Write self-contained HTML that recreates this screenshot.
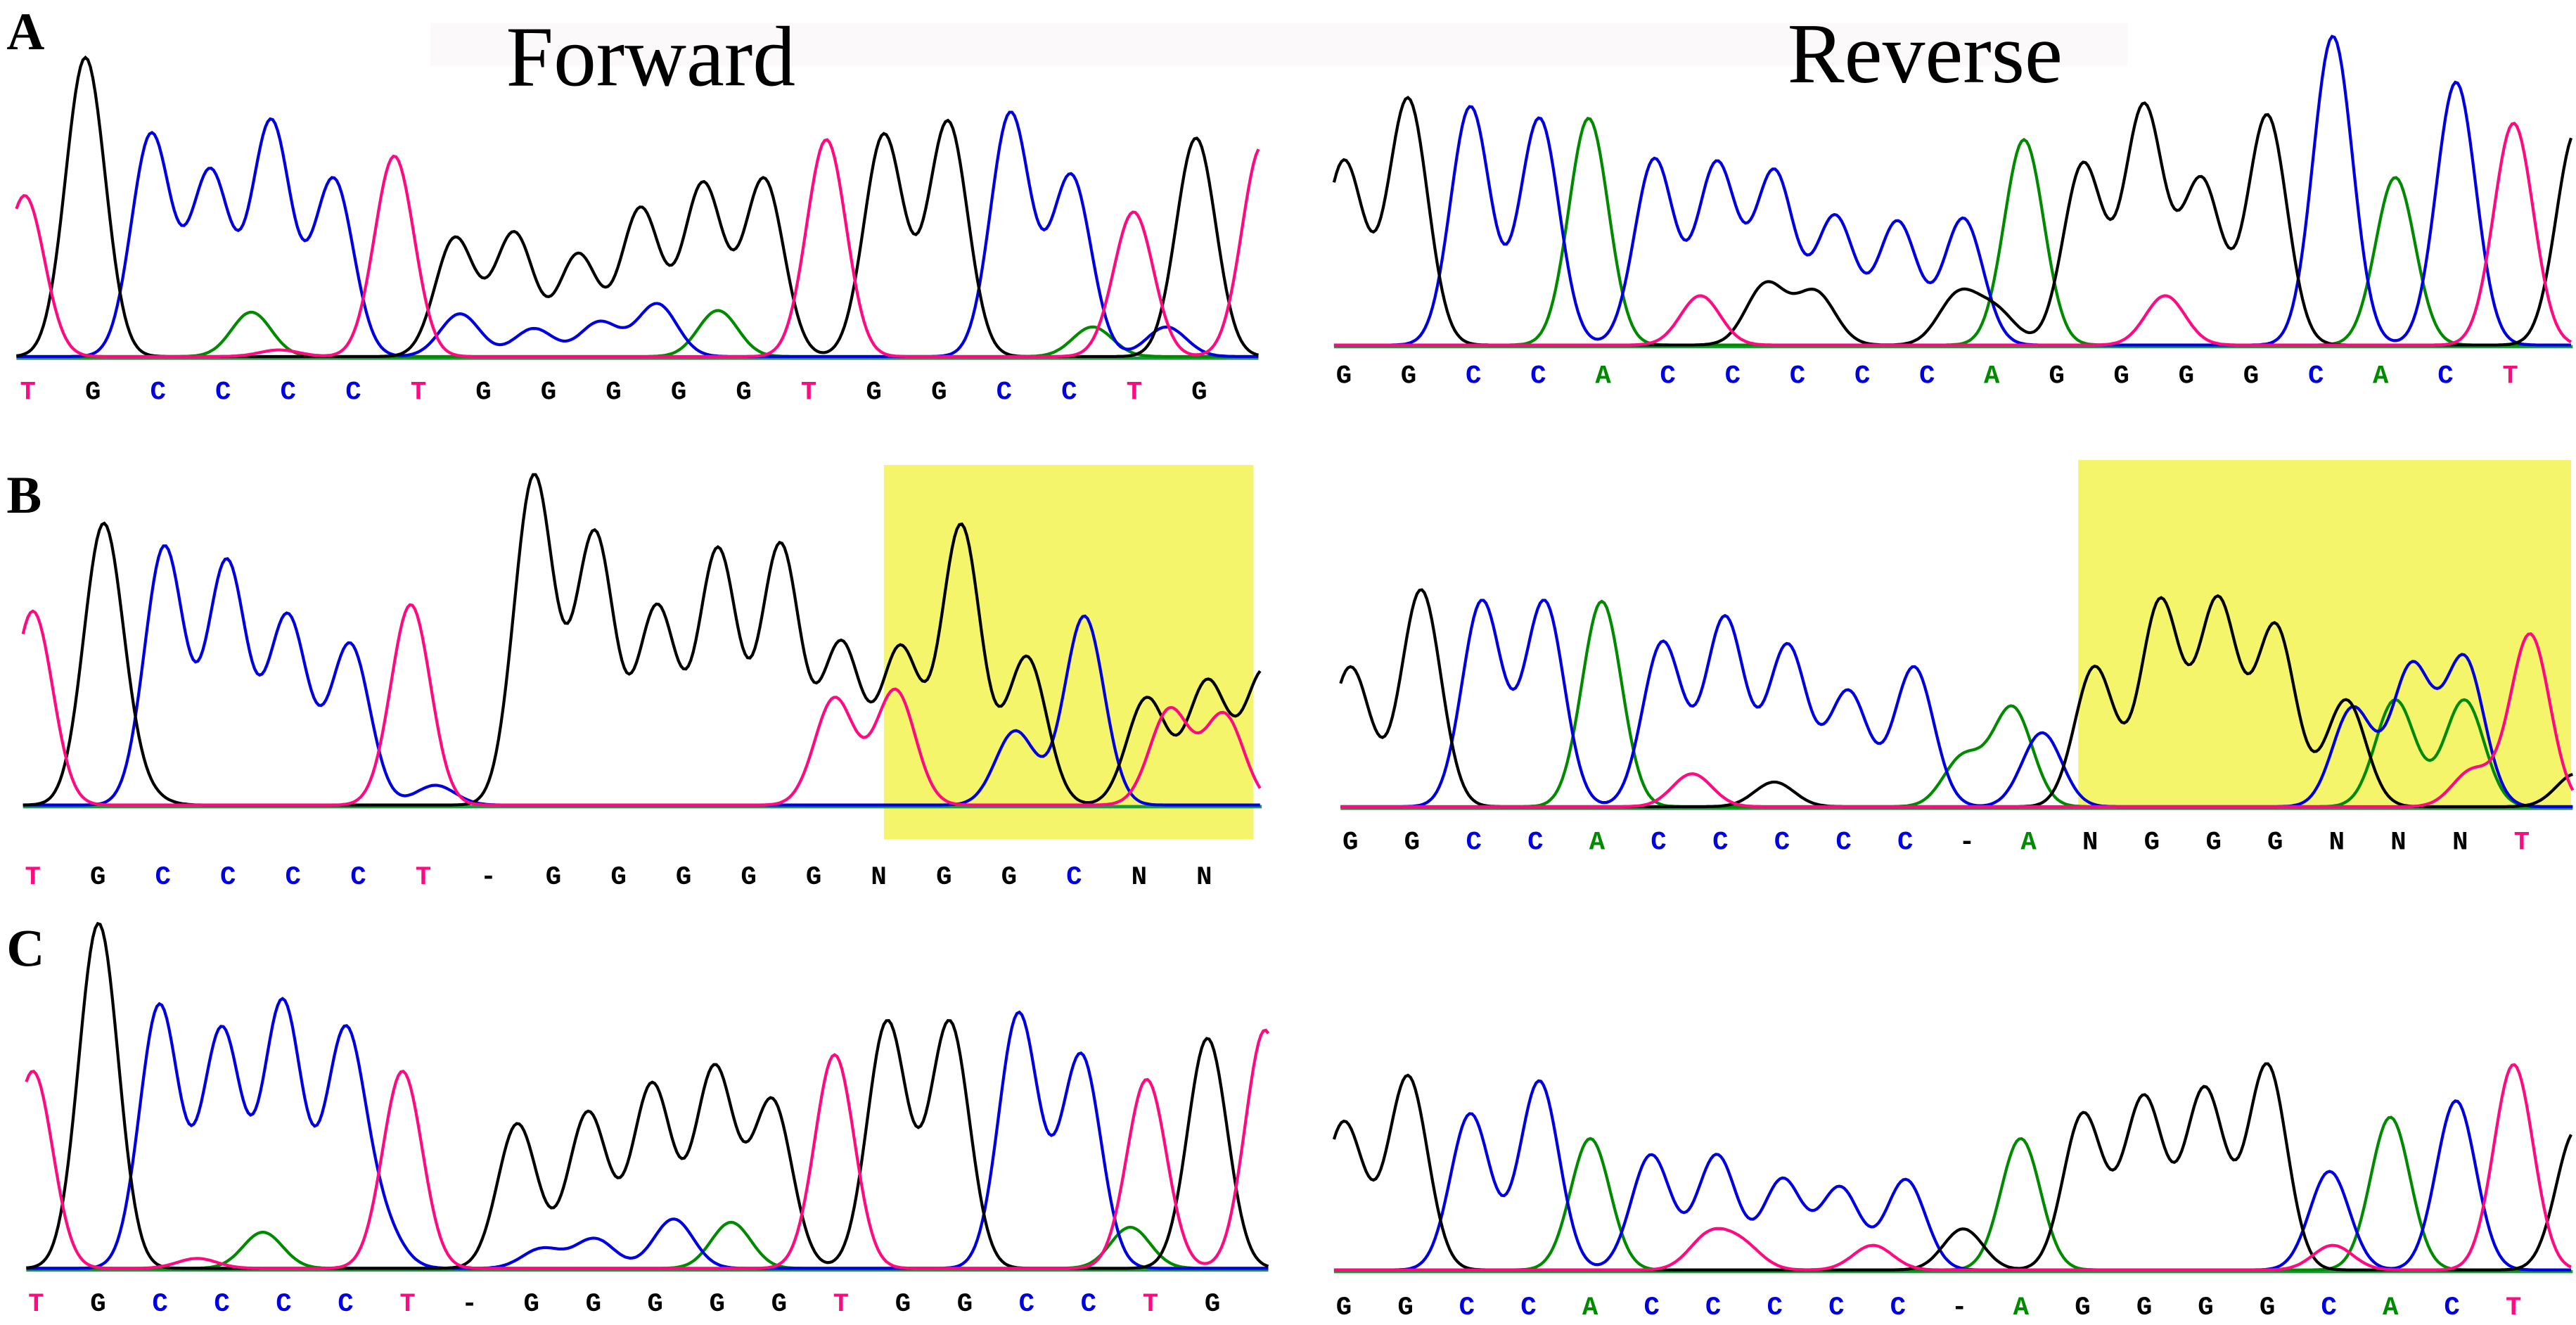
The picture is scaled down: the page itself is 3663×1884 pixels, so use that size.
<!DOCTYPE html>
<html><head><meta charset="utf-8">
<style>
html,body{margin:0;padding:0;background:#fff;}
svg{display:block;}
.lbl{font-family:"Liberation Serif",serif;font-weight:bold;font-size:32px;}
.ttl{font-family:"Liberation Serif",serif;font-size:52px;}
.base{font-family:"Liberation Mono",monospace;font-weight:bold;font-size:16px;text-anchor:middle;}
</style></head>
<body>
<svg id="fig" width="3663" height="1884" viewBox="0 0 1568 806.5" preserveAspectRatio="none" xmlns="http://www.w3.org/2000/svg">
<rect x="262" y="14" width="1033" height="26" fill="#fcf9fa"/>
<text class="ttl" x="308" y="52">Forward</text>
<text class="ttl" x="1088" y="50">Reverse</text>
<text class="lbl" x="4" y="30">A</text>
<text class="lbl" x="4" y="312">B</text>
<text class="lbl" x="4" y="588">C</text>
<rect x="538" y="283" width="225" height="228" fill="#f5f56c"/>
<rect x="1265" y="280" width="300" height="212" fill="#f5f56c"/>
<g id="traces"></g>
</svg>
<script>
// peak data: [position, height, channel] ; channel k=G(black) b=C(blue) g=A(green) p=T(pink)
const aFwdPeaks = [[15,98,'p'],[52,182,'k'],[92,135,'b'],[128,112,'b'],[165,143,'b'],[203,108,'b'],[240,122,'p'],[277,72,'k'],[313,75,'k'],[352,62,'k'],[390,90,'k'],[428,105,'k'],[465,108,'k'],[503,132,'p'],[538,135,'k'],[577,143,'k'],[615,148,'b'],[652,110,'b'],[690,88,'p'],[728,133,'k'],[768,128,'p'],[153,27,'g'],[280,26,'b'],[325,17,'b'],[365,21,'b'],[400,32,'b'],[437,28,'g'],[665,18,'g'],[710,18,'b'],[170,4,'p']];
const aRevPeaks = [[818,112,'k'],[857,150,'k'],[895,145,'b'],[937,138,'b'],[967,138,'g'],[1007,113,'b'],[1045,110,'b'],[1080,105,'b'],[1117,78,'b'],[1155,75,'b'],[1195,77,'b'],[1232,125,'g'],[1268,110,'k'],[1305,145,'k'],[1340,100,'k'],[1380,140,'k'],[1420,188,'b'],[1458,102,'g'],[1495,160,'b'],[1530,135,'p'],[1568,130,'k'],[1035,30,'p'],[1075,37,'k'],[1105,32,'k'],[1192,30,'k'],[1318,30,'p'],[1215,20,'k']];
const bFwdPeaks = [[20,118,'p'],[63,170,'k'],[100,157,'b'],[138,148,'b'],[175,115,'b'],[213,98,'b'],[250,122,'p'],[325,200,'k'],[362,165,'k'],[400,120,'k'],[437,155,'k'],[475,158,'k'],[512,98,'k'],[548,95,'k'],[585,170,'k'],[625,90,'k'],[660,115,'b'],[698,65,'k'],[735,75,'k'],[770,82,'k'],[508,65,'p'],[545,70,'p'],[618,45,'b'],[712,58,'p'],[745,55,'p'],[85,8,'k'],[265,12,'b']];
const bRevPeaks = [[822,85,'k'],[865,132,'k'],[902,125,'b'],[940,125,'b'],[975,125,'g'],[1012,100,'b'],[1050,115,'b'],[1088,98,'b'],[1125,70,'b'],[1165,85,'b'],[1225,60,'g'],[1243,45,'b'],[1275,85,'k'],[1315,125,'k'],[1350,125,'k'],[1385,110,'k'],[1428,65,'k'],[1432,60,'b'],[1458,65,'g'],[1468,85,'b'],[1500,90,'b'],[1500,65,'g'],[1540,105,'p'],[1505,22,'p'],[1195,30,'g'],[1030,20,'p'],[1080,15,'k'],[1568,20,'k']];
const cFwdPeaks = [[20,120,'p'],[60,210,'k'],[97,160,'b'],[135,145,'b'],[172,162,'b'],[210,142,'b'],[245,120,'p'],[315,88,'k'],[358,95,'k'],[397,112,'k'],[435,122,'k'],[470,102,'k'],[508,130,'p'],[540,150,'k'],[578,150,'k'],[620,155,'b'],[658,130,'b'],[698,115,'p'],[735,140,'k'],[770,145,'p'],[160,22,'g'],[232,25,'b'],[330,12,'b'],[362,18,'b'],[410,30,'b'],[445,28,'g'],[688,25,'g'],[120,6,'p']];
const cRevPeaks = [[818,90,'k'],[857,118,'k'],[895,95,'b'],[937,115,'b'],[968,80,'g'],[1005,70,'b'],[1045,70,'b'],[1085,55,'b'],[1120,50,'b'],[1160,55,'b'],[1230,80,'g'],[1268,95,'k'],[1305,105,'k'],[1342,110,'k'],[1380,125,'k'],[1418,60,'b'],[1455,93,'g'],[1495,103,'b'],[1530,125,'p'],[1568,85,'k'],[1195,25,'k'],[1040,20,'p'],[1060,15,'p'],[1140,15,'p'],[1420,15,'p']];
// base calls
const aFwdCalls = "TGCCCCTGGGGGTGGCCTG";
const aRevCalls = "GGCCACCCCCAGGGGCACT";
const bFwdCalls = "TGCCCCT-GGGGGNGGCNN";
const bRevCalls = "GGCCACCCCC-ANGGGNNNT";
const cFwdCalls = "TGCCCCT-GGGGGTGGCCTG";
const cRevCalls = "GGCCACCCCC-AGGGGCACT";

const colors = {k:'#000000', b:'#0000e0', g:'#008a00', p:'#ff0a80'};
const callColors = {G:'#000', N:'#000','-':'#000', C:'#0000e0', A:'#008a00', T:'#ff0a80'};
const panels = [
 {name:'a-forward', peaks:aFwdPeaks, calls:aFwdCalls, x0:10, x1:766, base:217, lx0:17, lx1:730, ly:243},
 {name:'a-reverse', peaks:aRevPeaks, calls:aRevCalls, x0:812, x1:1566, base:210, lx0:818, lx1:1528, ly:233},
 {name:'b-forward', peaks:bFwdPeaks, calls:bFwdCalls, x0:14, x1:768, base:490, lx0:20, lx1:733, ly:538},
 {name:'b-reverse', peaks:bRevPeaks, calls:bRevCalls, x0:816, x1:1566, base:491, lx0:822, lx1:1535, ly:517},
 {name:'c-forward', peaks:cFwdPeaks, calls:cFwdCalls, x0:16, x1:772, base:772, lx0:22, lx1:738, ly:798},
 {name:'c-reverse', peaks:cRevPeaks, calls:cRevCalls, x0:812, x1:1566, base:773, lx0:818, lx1:1530, ly:800}
];
const NS='http://www.w3.org/2000/svg';
const g = document.getElementById('traces');
const sigma = 12;
function yScale(p, h){ return p.base - h; }
panels.forEach(p=>{
  const bl = document.createElementNS(NS,'line');
  
  
  bl.setAttribute('x1',p.x0); bl.setAttribute('x2',p.x1);
  bl.setAttribute('y1',p.base+1); bl.setAttribute('y2',p.base+1);
  bl.setAttribute('stroke','#1a9a3a'); bl.setAttribute('stroke-width','2');
  g.appendChild(bl);
  ['g','b','k','p'].forEach(ch=>{
    const pk = p.peaks.filter(q=>q[2]===ch);
    if(!pk.length) return;
    let d='';
    for(let x=p.x0;x<=p.x1;x+=1.5){
      let v=0;
      pk.forEach(q=>{ const t=(x-q[0])/sigma; v+=q[1]*Math.exp(-0.5*t*t); });
      d += (d?'L':'M')+x.toFixed(1)+','+yScale(p,v).toFixed(1);
    }
    const path=document.createElementNS(NS,'path');
    
    
    path.setAttribute('d',d);
    path.setAttribute('fill','none');
    path.setAttribute('stroke',colors[ch]);
    path.setAttribute('stroke-width','1.8');
    g.appendChild(path);
  });
  const n=p.calls.length;
  for(let i=0;i<n;i++){
    const c=p.calls[i];
    const t=document.createElementNS(NS,'text');
    
    
    t.setAttribute('class','base');
    t.setAttribute('x',(p.lx0+(p.lx1-p.lx0)*i/(n-1)).toFixed(1));
    t.setAttribute('y',p.ly);
    t.setAttribute('fill',callColors[c]);
    t.textContent=c;
    g.appendChild(t);
  }
});
</script>
</body></html>
